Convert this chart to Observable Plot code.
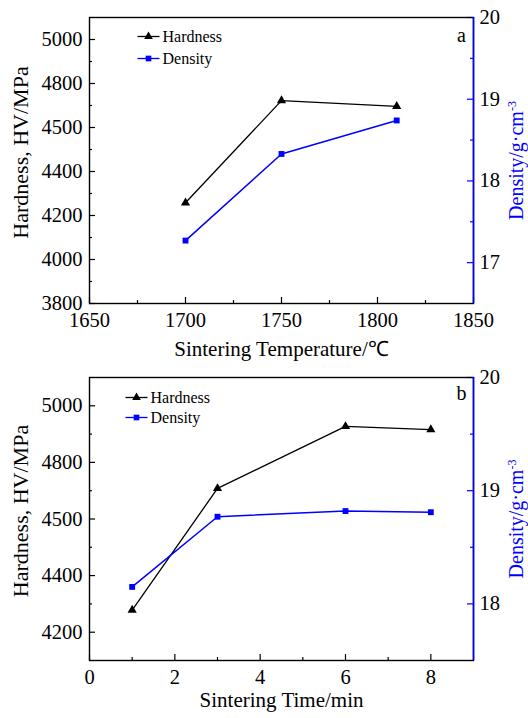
<!DOCTYPE html>
<html><head><meta charset="utf-8">
<script src="https://cdn.jsdelivr.net/npm/d3@7"></script>
<script src="https://cdn.jsdelivr.net/npm/@observablehq/plot@0.6"></script>
<style>body{margin:0;background:#fff}#chart svg{display:block}</style>
</head><body><div id="chart"></div>
<script>
// ---- Panel a: sintering temperature ----
const tempC = [1700, 1750, 1810];
const hardnessA = [4258, 4722, 4696];
const densityA = [17.27, 18.33, 18.74];
// ---- Panel b: sintering time ----
const timeMin = [1, 3, 6, 8];
const hardnessB = [4278, 4708, 4927, 4916];
const densityB = [18.15, 18.77, 18.82, 18.81];
// ---- ticks / labels ----
const hardTicksA = [3800, 4000, 4200, 4400, 4600, 4800, 5000];
const hardLabelsA = ["3800", "4000", "4200", "4400", "4500", "4800", "5000"];
const hardTicksB = [4200, 4400, 4600, 4800, 5000];
const hardLabelsB = ["4200", "4400", "4500", "4800", "5000"];
const densTicksA = [17, 18, 19, 20];
const densTicksB = [18, 19, 20];
const tempTicks = [1650, 1700, 1750, 1800, 1850];
const timeTicks = [0, 2, 4, 6, 8];
const seriesNames = ["Hardness", "Density"];
const BLUE = "#0000ff";
const FONT = "'Liberation Serif', 'Times New Roman', serif";

function panel(cfg) {
  const W = 528, ml = 89, mr = 55;
  const {height, mt, mb} = cfg;
  const iw = W - ml - mr, ih = height - mt - mb;
  const d2y = d3.scaleLinear(cfg.densDomain, cfg.yDomain);
  const hard = cfg.x.map((x, i) => ({x, v: cfg.hard[i]}));
  const dens = cfg.x.map((x, i) => ({x, v: d2y(cfg.dens[i])}));
  const hardFmt = new Map(cfg.hardTicks.map((t, i) => [t, cfg.hardLabels[i]]));
  const minorH = cfg.hardTicks.map(t => t + 100).filter(t => t < cfg.yDomain[1]);
  const minorD = cfg.densTicks.map(t => t - 0.5).filter(t => t > cfg.densDomain[0]);
  const xStep = cfg.xTicks[1] - cfg.xTicks[0];
  const minorX = cfg.xTicks.map(t => t + xStep / 2).filter(t => t < cfg.xDomain[1]);
  const lineSym = {draw(ctx) { ctx.moveTo(-11, 0); ctx.lineTo(11, 0); }};
  const legendMarks = [];
  seriesNames.forEach((name, i) => {
    const col = i === 0 ? "black" : BLUE;
    const dy = cfg.legDy + i * cfg.legGap;
    legendMarks.push(
      Plot.dot([name], {frameAnchor: "top-left", dx: cfg.legDx, dy, symbol: lineSym, stroke: col, strokeWidth: 1.3}),
      Plot.dot([name], {frameAnchor: "top-left", dx: cfg.legDx, dy, symbol: i === 0 ? "triangle" : "square", fill: col, r: 3.2}),
      Plot.text([name], {frameAnchor: "top-left", dx: cfg.legDx + 14, dy, text: d => d, textAnchor: "start", lineAnchor: "middle", fontSize: 16, fill: "black"})
    );
  });
  const svg = Plot.plot({
    width: W, height, marginLeft: ml, marginRight: mr, marginTop: mt, marginBottom: mb,
    style: {fontFamily: FONT, fontSize: "20.5px", background: "white", color: "black"},
    x: {domain: cfg.xDomain},
    y: {domain: cfg.yDomain},
    marks: [
      Plot.tickY(cfg.hardTicks, {y: d => d, insetRight: iw - 6, stroke: "black", strokeWidth: 1.2}),
      Plot.tickY(minorH, {y: d => d, insetRight: iw - 3, stroke: "black", strokeWidth: 1.2}),
      Plot.tickY(cfg.densTicks, {y: d => d2y(d), insetLeft: iw - 6, stroke: BLUE, strokeWidth: 1.2}),
      Plot.tickY(minorD, {y: d => d2y(d), insetLeft: iw - 3, stroke: BLUE, strokeWidth: 1.2}),
      Plot.tickX(cfg.xTicks, {x: d => d, insetTop: ih - 6, stroke: "black", strokeWidth: 1.2}),
      Plot.tickX(minorX, {x: d => d, insetTop: ih - 3, stroke: "black", strokeWidth: 1.2}),
      Plot.frame({stroke: "black", strokeWidth: 1.4}),
      Plot.ruleX([cfg.xDomain[1]], {stroke: BLUE, strokeWidth: 1.6}),
      Plot.axisY(cfg.hardTicks, {tickSize: 0, tickPadding: 7, tickFormat: d => hardFmt.get(d), label: null}),
      Plot.axisY(cfg.densTicks.map(d => d2y(d)), {anchor: "right", tickSize: 0, tickPadding: 6, tickFormat: d => String(Math.round(d2y.invert(d))), label: null}),
      Plot.axisX(cfg.xTicks, {tickSize: 0, tickPadding: 9, tickFormat: d => String(d), label: null}),
      Plot.line(hard, {x: "x", y: "v", stroke: "black", strokeWidth: 1.3}),
      Plot.dot(hard, {x: "x", y: "v", symbol: "triangle", fill: "black", r: 3.4}),
      Plot.line(dens, {x: "x", y: "v", stroke: BLUE, strokeWidth: 1.5}),
      Plot.dot(dens, {x: "x", y: "v", symbol: "square", fill: BLUE, r: 3.3}),
      ...legendMarks,
      Plot.text([cfg.letter], {frameAnchor: "top-right", dx: -12, dy: cfg.letterDy, text: d => d, textAnchor: "middle", lineAnchor: "middle", fontSize: 20}),
      Plot.text([cfg.xLabel], {frameAnchor: "bottom", dy: cfg.xLabelDy, text: d => d, textAnchor: "middle", lineAnchor: "middle", fontSize: 21}),
      Plot.text(["Hardness, HV/MPa"], {frameAnchor: "left", dx: -69, dy: -8, rotate: -90, text: d => d, textAnchor: "middle", lineAnchor: "middle", fontSize: 22}),
      Plot.text(["Density/g·cm"], {frameAnchor: "right", dx: 43, dy: 0, rotate: -90, text: d => d, textAnchor: "middle", lineAnchor: "middle", fontSize: 20, fill: BLUE})
    ]
  });
  d3.select(svg).selectAll("text").filter(function () { return this.textContent === "Density/g·cm"; })
    .append("tspan").attr("dy", "-0.6em").attr("font-size", "12px").text("-3");
  return svg;
}

const root = document.getElementById("chart");
root.appendChild(panel({
  height: 366, mt: 17, mb: 63,
  x: tempC, hard: hardnessA, dens: densityA,
  xDomain: [1650, 1850], yDomain: [3800, 5100], densDomain: [16.5, 20],
  hardTicks: hardTicksA, hardLabels: hardLabelsA, densTicks: densTicksA, xTicks: tempTicks,
  legDx: 59, legDy: 19, legGap: 22, letter: "a", letterDy: 18, xLabelDy: 46, xLabel: "Sintering Temperature/℃"
}));
root.appendChild(panel({
  height: 352, mt: 11, mb: 58,
  x: timeMin, hard: hardnessB, dens: densityB,
  xDomain: [0, 9], yDomain: [4100, 5100], densDomain: [17.5, 20],
  hardTicks: hardTicksB, hardLabels: hardLabelsB, densTicks: densTicksB, xTicks: timeTicks,
  legDx: 47, legDy: 20, legGap: 20, letter: "b", letterDy: 16, xLabelDy: 40, xLabel: "Sintering Time/min"
}));
</script></body></html>
